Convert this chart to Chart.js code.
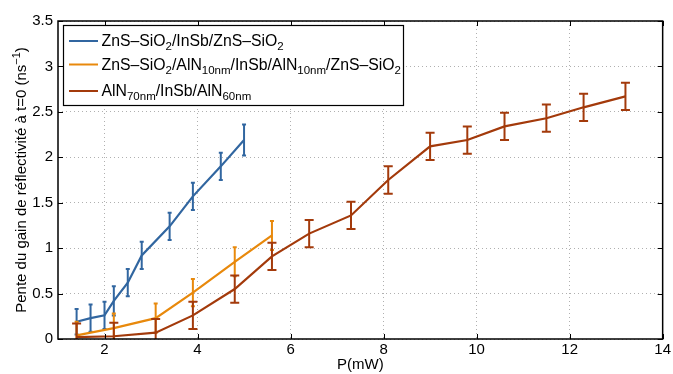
<!DOCTYPE html>
<html>
<head>
<meta charset="utf-8">
<script src="https://cdn.jsdelivr.net/npm/chart.js@4"></script>
<style>body{margin:0;background:#fff}</style>
</head>
<body>
<canvas id="chart" width="673" height="374"></canvas>
<script>
// data
var xBlue = [1.4, 1.7, 2.0, 2.2, 2.5, 2.8, 3.4, 3.9, 4.5, 5.0];
var yBlue = [0.19, 0.23, 0.26, 0.42, 0.62, 0.92, 1.24, 1.57, 1.90, 2.19];
var eBlue = [0.14, 0.15, 0.15, 0.16, 0.15, 0.15, 0.15, 0.15, 0.15, 0.17];

var xOrange = [1.4, 2.2, 3.1, 3.9, 4.8, 5.6];
var yOrange = [0.04, 0.12, 0.23, 0.51, 0.85, 1.14];
var eOrange = [0.15, 0.16, 0.16, 0.15, 0.16, 0.16];

var xRed = [1.4, 2.2, 3.1, 3.9, 4.8, 5.6, 6.4, 7.3, 8.1, 9.0, 9.8, 10.6, 11.5, 12.3, 13.2];
var yRed = [0.02, 0.03, 0.07, 0.26, 0.55, 0.91, 1.16, 1.36, 1.75, 2.12, 2.19, 2.34, 2.43, 2.55, 2.67];
var eRed = [0.15, 0.15, 0.15, 0.15, 0.15, 0.15, 0.15, 0.15, 0.15, 0.15, 0.15, 0.15, 0.15, 0.15, 0.15];

var xTicks = [2, 4, 6, 8, 10, 12, 14];
var yTicks = [0, 0.5, 1, 1.5, 2, 2.5, 3, 3.5];

// legend labels: [text, isSubscript]
var labelBlue = [['ZnS\u2013SiO', 0], ['2', 1], ['/InSb/ZnS\u2013SiO', 0], ['2', 1]];
var labelOrange = [['ZnS\u2013SiO', 0], ['2', 1], ['/AlN', 0], ['10nm', 1], ['/InSb/AlN', 0], ['10nm', 1], ['/ZnS\u2013SiO', 0], ['2', 1]];
var labelRed = [['AlN', 0], ['70nm', 1], ['/InSb/AlN', 0], ['60nm', 1]];
// y title: [text, isSuperscript]
var yTitle = [['Pente du gain de r\u00e9flectivit\u00e9 \u00e0 t=0 (ns', 0], ['\u22121', 1], [')', 0]];

var FONT = '"Liberation Sans", Arial, sans-serif';

function pts(xs, ys) {
  return xs.map(function(x, i) { return {x: x, y: ys[i]}; });
}

// error bars, drawn right after each dataset
var errorBars = {
  id: 'errorBars',
  afterDatasetDraw: function(chart, args) {
    var ds = chart.data.datasets[args.index];
    var xs = chart.scales.x, ys = chart.scales.y, ctx = chart.ctx, a = chart.chartArea;
    ctx.save();
    ctx.beginPath();
    ctx.rect(a.left, a.top, a.right - a.left, a.bottom - a.top);
    ctx.clip();
    ctx.strokeStyle = ds.borderColor;
    ctx.lineWidth = 2;
    ds.data.forEach(function(p, i) {
      var px = xs.getPixelForValue(p.x);
      var top = ys.getPixelForValue(p.y + ds.err[i]);
      var bot = ys.getPixelForValue(p.y - ds.err[i]);
      ctx.beginPath();
      ctx.moveTo(px, top); ctx.lineTo(px, bot);
      ctx.moveTo(px - ds.cap, top); ctx.lineTo(px + ds.cap, top);
      ctx.moveTo(px - ds.cap, bot); ctx.lineTo(px + ds.cap, bot);
      ctx.stroke();
    });
    ctx.restore();
  }
};

function richText(ctx, segs, x, y, big, small, shift) {
  segs.forEach(function(seg) {
    ctx.font = (seg[1] ? small : big) + 'px ' + FONT;
    ctx.fillText(seg[0], x, y + (seg[1] ? shift : 0));
    x += ctx.measureText(seg[0]).width;
  });
  return x;
}

function richWidth(ctx, segs, big, small) {
  var w = 0;
  segs.forEach(function(seg) {
    ctx.font = (seg[1] ? small : big) + 'px ' + FONT;
    w += ctx.measureText(seg[0]).width;
  });
  return w;
}

// matlab style box with inward ticks, legend, y title
var boxAndLegend = {
  id: 'boxAndLegend',
  afterDatasetsDraw: function(chart) {
    var ctx = chart.ctx, a = chart.chartArea;
    var xs = chart.scales.x, ys = chart.scales.y;
    ctx.save();
    ctx.strokeStyle = '#000';
    ctx.lineWidth = 1;
    ctx.beginPath();
    xTicks.forEach(function(v) {
      var px = Math.round(xs.getPixelForValue(v)) + 0.5;
      ctx.moveTo(px, a.bottom); ctx.lineTo(px, a.bottom - 5);
      ctx.moveTo(px, a.top); ctx.lineTo(px, a.top + 5);
    });
    yTicks.forEach(function(v) {
      var py = Math.round(ys.getPixelForValue(v)) + 0.5;
      ctx.moveTo(a.left, py); ctx.lineTo(a.left + 5, py);
      ctx.moveTo(a.right, py); ctx.lineTo(a.right - 5, py);
    });
    ctx.stroke();
    ctx.lineWidth = 1.5;
    ctx.strokeRect(a.left, a.top, a.right - a.left, a.bottom - a.top);

    // legend
    var lx = 63.5, ly = 25.5, lw = 340, lh = 80;
    ctx.fillStyle = '#fff';
    ctx.fillRect(lx, ly, lw, lh);
    ctx.lineWidth = 1.2;
    ctx.strokeRect(lx, ly, lw, lh);
    var rows = [[labelBlue, '#3166a0', 41, 45.5], [labelOrange, '#e8890c', 64.5, 70], [labelRed, '#a33a0b', 91, 96]];
    rows.forEach(function(r) {
      ctx.strokeStyle = r[1];
      ctx.lineWidth = 2;
      ctx.beginPath();
      ctx.moveTo(69, r[2]); ctx.lineTo(98, r[2]);
      ctx.stroke();
      ctx.fillStyle = '#000';
      ctx.textBaseline = 'alphabetic';
      richText(ctx, r[0], 101.5, r[3], 15.8, 11.5, 4);
    });

    // y axis title, rotated
    var w = richWidth(ctx, yTitle, 15, 11);
    ctx.translate(26, (a.top + a.bottom) / 2);
    ctx.rotate(-Math.PI / 2);
    richText(ctx, yTitle, -w / 2, 0, 15, 11, -6);
    ctx.restore();
  }
};

var ctx = document.getElementById('chart').getContext('2d');
var myChart = new Chart(ctx, {
  type: 'line',
  data: {
    datasets: [
      {data: pts(xBlue, yBlue), err: eBlue, cap: 2, borderColor: '#3166a0', order: 3},
      {data: pts(xOrange, yOrange), err: eOrange, cap: 2, borderColor: '#e8890c', order: 2},
      {data: pts(xRed, yRed), err: eRed, cap: 4.5, borderColor: '#a33a0b', order: 1}
    ]
  },
  options: {
    responsive: false,
    animation: false,
    layout: {padding: {left: 12, right: 9, top: 21, bottom: 0}},
    elements: {
      line: {borderWidth: 2.2, tension: 0, fill: false},
      point: {radius: 0, hoverRadius: 0}
    },
    plugins: {legend: {display: false}, tooltip: {enabled: false}},
    scales: {
      x: {
        type: 'linear',
        min: 1, max: 14,
        afterBuildTicks: function(scale) {
          scale.ticks = xTicks.map(function(v) { return {value: v}; });
        },
        afterFit: function(scale) { scale.height = 35; },
        grid: {color: '#b0b0b0', drawTicks: false},
        border: {display: false, dash: [1, 3]},
        ticks: {padding: 2, color: '#000', font: {family: FONT, size: 15}, maxRotation: 0},
        title: {display: true, text: 'P(mW)', color: '#000', padding: 0, font: {family: FONT, size: 15}}
      },
      y: {
        min: 0, max: 3.5,
        afterBuildTicks: function(scale) {
          scale.ticks = yTicks.map(function(v) { return {value: v}; });
        },
        afterFit: function(scale) { scale.width = 46; },
        grid: {color: '#b0b0b0', drawTicks: false},
        border: {display: false, dash: [1, 3]},
        ticks: {padding: 5, color: '#000', font: {family: FONT, size: 15},
          callback: function(v) { return String(v); }}
      }
    }
  },
  plugins: [errorBars, boxAndLegend]
});
</script>
</body>
</html>
